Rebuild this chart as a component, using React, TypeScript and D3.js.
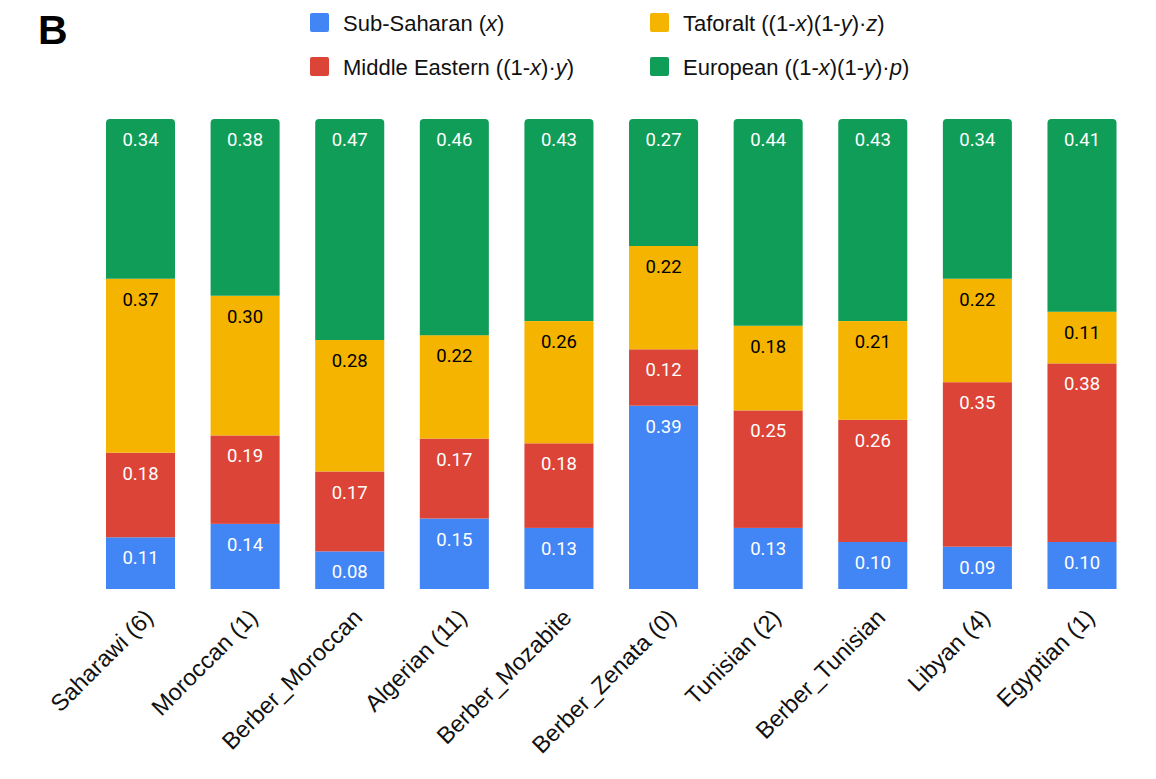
import React from "react";
import * as d3 from "d3";

const categories = [
  "Saharawi (6)",
  "Moroccan (1)",
  "Berber_Moroccan",
  "Algerian (11)",
  "Berber_Mozabite",
  "Berber_Zenata (0)",
  "Tunisian (2)",
  "Berber_Tunisian",
  "Libyan (4)",
  "Egyptian (1)",
];
const subSaharan = [0.11, 0.14, 0.08, 0.15, 0.13, 0.39, 0.13, 0.1, 0.09, 0.1];
const middleEastern = [0.18, 0.19, 0.17, 0.17, 0.18, 0.12, 0.25, 0.26, 0.35, 0.38];
const taforalt = [0.37, 0.3, 0.28, 0.22, 0.26, 0.22, 0.18, 0.21, 0.22, 0.11];
const european = [0.34, 0.38, 0.47, 0.46, 0.43, 0.27, 0.44, 0.43, 0.34, 0.41];

const seriesKeys = ["sub", "me", "taf", "eur"];
const seriesColors = ["#4285F4", "#DB4437", "#F4B400", "#0F9D58"];
const labelColors = ["#ffffff", "#ffffff", "#000000", "#ffffff"];

const W = 1156;
const H = 779;

export default function App() {
  const rows = categories.map((c, i) => ({
    cat: c,
    sub: subSaharan[i],
    me: middleEastern[i],
    taf: taforalt[i],
    eur: european[i],
  }));
  const stack = d3.stack<any>().keys(seriesKeys).offset(d3.stackOffsetExpand);
  const stacked = stack(rows);

  const x = d3
    .scaleBand<string>()
    .domain(categories)
    .range([88.2, 1134.3])
    .paddingInner(0.34)
    .paddingOuter(0.17);
  const y = d3.scaleLinear().domain([0, 1]).range([589, 119]);
  const bw = x.bandwidth();
  const r = 4;

  const topPath = (x0: number, y0: number, w: number, h: number) => {
    return `M${x0},${y0 + h}V${y0 + r}Q${x0},${y0} ${x0 + r},${y0}H${x0 + w - r}Q${x0 + w},${y0} ${x0 + w},${y0 + r}V${y0 + h}Z`;
  };

  const legendFont = "'Liberation Sans', Arial, Helvetica, sans-serif";
  const legendItems = [
    { color: seriesColors[0], x: 310, y: 13, parts: [["Sub-Saharan (", 0], ["x", 1], [")", 0]] },
    { color: seriesColors[1], x: 310, y: 57, parts: [["Middle Eastern ((1-", 0], ["x", 1], [")·", 0], ["y", 1], [")", 0]] },
    { color: seriesColors[2], x: 650, y: 13, parts: [["Taforalt ((1-", 0], ["x", 1], [")(1-", 0], ["y", 1], [")·", 0], ["z", 1], [")", 0]] },
    { color: seriesColors[3], x: 650, y: 57, parts: [["European ((1-", 0], ["x", 1], [")(1-", 0], ["y", 1], [")·", 0], ["p", 1], [")", 0]] },
  ];

  return (
    <svg
      width={W}
      height={H}
      style={{ position: "absolute", left: 0, top: 0, background: "#fff" }}
    >
      <rect width={W} height={H} fill="#fff" />
      <text x={38} y={44} fontFamily={legendFont} fontWeight="bold" fontSize={41} fill="#000">
        B
      </text>
      {legendItems.map((it, i) => (
        <g key={i}>
          <rect x={it.x} y={it.y} width={19} height={19} rx={2} fill={it.color} />
          <text x={it.x + 33} y={it.y + 18} fontFamily={legendFont} fontSize={22} fill="#111">
            {it.parts.map((p, j) => (
              <tspan key={j} fontStyle={p[1] ? "italic" : "normal"}>
                {p[0] as string}
              </tspan>
            ))}
          </text>
        </g>
      ))}
      {stacked.map((s, si) => (
        <g key={s.key}>
          {s.map((d, i) => {
            const x0 = x(categories[i])!;
            const y0 = y(d[1]);
            const h = y(d[0]) - y(d[1]);
            const val = [subSaharan, middleEastern, taforalt, european][si][i];
            return (
              <g key={i}>
                {si === 3 ? (
                  <path d={topPath(x0, y0, bw, h)} fill={seriesColors[si]} />
                ) : (
                  <rect x={x0} y={y0} width={bw} height={h} fill={seriesColors[si]} />
                )}
                <text
                  x={x0 + bw / 2}
                  y={y0 + 27}
                  textAnchor="middle"
                  fontFamily="Roboto, sans-serif"
                  fontSize={18.5}
                  fill={labelColors[si]}
                >
                  {val.toFixed(2)}
                </text>
              </g>
            );
          })}
        </g>
      ))}
      {categories.map((c) => {
        const cx = x(c)! + bw / 2 + 14;
        const cy = 619;
        return (
          <text
            key={c}
            transform={`translate(${cx},${cy}) rotate(-45)`}
            textAnchor="end"
            fontFamily={legendFont}
            fontSize={23.5}
            fill="#111"
          >
            {c}
          </text>
        );
      })}
    </svg>
  );
}
